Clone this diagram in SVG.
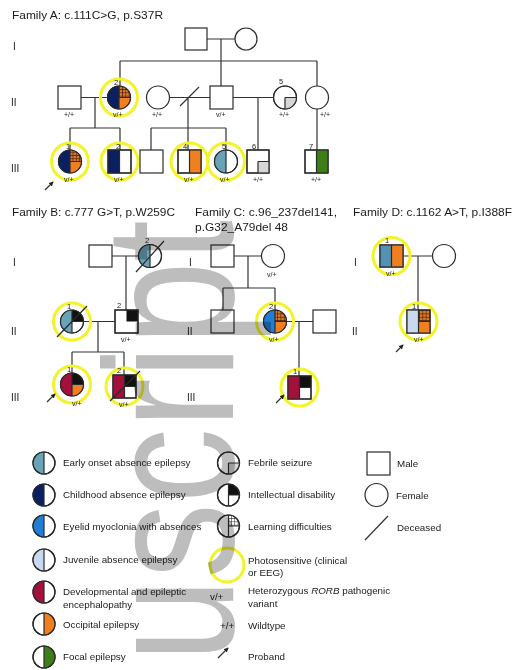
<svg xmlns="http://www.w3.org/2000/svg" width="516" height="670" viewBox="0 0 516 670">
<style>
.t{font-family:"Liberation Sans",Arial,sans-serif;fill:#1a1a1a}
.title{font-size:11px}
.gen{font-size:10px}
.num{font-size:7.5px}
.gt{font-size:7px}
.lg{font-size:9.8px}
.o{fill:#fff;stroke:#2a2a2a;stroke-width:1.2}
.ol{fill:none;stroke:#2a2a2a;stroke-width:1.2}
.ln{fill:none;stroke:#333;stroke-width:1.2}
.ring{fill:none;stroke:#f3f32a;stroke-width:3}
.eo{fill:#6aa2b8}.ca{fill:#0b2060}.em{fill:#1f7fd6}.ja{fill:#c9d9f0}.de{fill:#a3103c}.oc{fill:#ef7f1f}.fo{fill:#3d7f17}.fs{fill:#d6d6d6}.id{fill:#111}.ld{fill:url(#gridO)}.ldw{fill:url(#gridW)}.sb{fill:#5591b3}
.wm{font-family:"Liberation Sans",Arial,sans-serif;fill:#bdbdbd;mix-blend-mode:multiply}
</style>
<defs>
<pattern id="gridO" patternUnits="userSpaceOnUse" width="3.3" height="3.3">
<rect width="3.3" height="3.3" fill="#d9782a"/>
<path d="M0 0.3H3.3M0.3 0V3.3" stroke="#3a1a0a" stroke-width="0.7"/>
</pattern>
<pattern id="gridW" patternUnits="userSpaceOnUse" width="3.3" height="3.3">
<rect width="3.3" height="3.3" fill="#fff"/>
<path d="M0 0.3H3.3M0.3 0V3.3" stroke="#222" stroke-width="0.6"/>
</pattern>
<marker id="ah" viewBox="0 0 6 6" refX="5" refY="3" markerWidth="4" markerHeight="4" orient="auto">
<path d="M0 0L6 3L0 6Z" fill="#222"/>
</marker>
</defs>
<rect width="516" height="670" fill="#fff"/>

<!-- titles and generation labels -->
<g id="labels">
<text class="t title" x="12" y="19" textLength="151" lengthAdjust="spacingAndGlyphs">Family A:  c.111C&gt;G, p.S37R</text>
<text class="t gen" x="13" y="50">I</text>
<text class="t gen" x="11" y="106">II</text>
<text class="t gen" x="11" y="172">III</text>
<text class="t title" x="12" y="216" textLength="163" lengthAdjust="spacingAndGlyphs">Family B:  c.777 G&gt;T, p.W259C</text>
<text class="t title" x="195" y="216" textLength="142" lengthAdjust="spacingAndGlyphs">Family C: c.96_237del141,</text>
<text class="t title" x="195" y="231" textLength="93" lengthAdjust="spacingAndGlyphs">p.G32_A79del 48</text>
<text class="t title" x="353" y="216" textLength="159" lengthAdjust="spacingAndGlyphs">Family D: c.1162 A&gt;T, p.I388F</text>
<text class="t gen" x="13" y="266">I</text>
<text class="t gen" x="11" y="335">II</text>
<text class="t gen" x="11" y="401">III</text>
<text class="t gen" x="189" y="266">I</text>
<text class="t gen" x="187" y="335">II</text>
<text class="t gen" x="187" y="401">III</text>
<text class="t gen" x="354" y="266">I</text>
<text class="t gen" x="352" y="335">II</text>
</g>

<!-- connectors -->
<g id="connectors" class="ln">
<path d="M207 39H235M221 39V61M120 61H317M120 61V86M221 61V86M317 61V86"/>
<path d="M81 97.5H107.5M95 97.5V128M70 128H120M70 128V150M120 128V150"/>
<path d="M169.5 97.5H210M180 106L199 87M188 97.5V150M151 128H226M151 128V150M226 128V150"/>
<path d="M233 97.5H273.5M258 97.5V150M317 109V150"/>
<path d="M112 256H138.5M126 256V310M83.5 321.5H115M98 321.5V352M72 352H124M72 352V373M124 352V375"/>
<path d="M234 256H261.5M248 256V288M223 288H275M223 288V310M275 288V310M286.5 321.5H313M299 321.5V376"/>
<path d="M403 256H432.5M418 256V310"/>
</g>

<!-- Family A -->
<g id="A-I-1"><rect class="o" x="185" y="28" width="22" height="22"/></g>
<g id="A-I-2"><circle class="o" cx="246" cy="39" r="11"/></g>
<g id="A-II-1"><rect class="o" x="58" y="86" width="23" height="23"/><text class="t gt" x="64" y="117">+/+</text></g>
<g id="A-II-2"><circle class="ring" cx="119" cy="97.5" r="18.5"/>
<circle class="o" cx="119" cy="97.5" r="11.5"/>
<path class="ca" d="M119 86A11.5 11.5 0 0 0 119 109Z"/>
<path class="ld" d="M119 97.5L119 86A11.5 11.5 0 0 1 130.5 97.5Z"/>
<path class="oc" d="M119 97.5L130.5 97.5A11.5 11.5 0 0 1 119 109Z"/>
<circle class="ol" cx="119" cy="97.5" r="11.5"/><path class="ol" d="M119 86V109M119 97.5H130.5"/>
<text class="t num" x="114" y="85">2</text><text class="t gt" x="113" y="117">v/+</text></g>
<g id="A-II-3"><circle class="o" cx="158" cy="97.5" r="11.5"/><text class="t gt" x="152" y="117">+/+</text></g>
<g id="A-II-4"><rect class="o" x="210" y="86" width="23" height="23"/><text class="t gt" x="216" y="117">v/+</text></g>
<g id="A-II-5"><circle class="o" cx="285" cy="97.5" r="11.5"/>
<path class="fs" d="M285 97.5L296.5 97.5A11.5 11.5 0 0 1 285 109Z"/>
<circle class="ol" cx="285" cy="97.5" r="11.5"/><path class="ol" d="M285 97.5V109M285 97.5H296.5"/>
<text class="t num" x="279" y="84">5</text><text class="t gt" x="279" y="117">+/+</text></g>
<g id="A-II-6"><circle class="o" cx="317" cy="97.5" r="11.5"/><text class="t gt" x="320" y="117">+/+</text></g>

<g id="A-III-1"><circle class="ring" cx="70" cy="161.5" r="18.5"/>
<circle class="o" cx="70" cy="161.5" r="11.5"/>
<path class="ca" d="M70 150A11.5 11.5 0 0 0 70 173Z"/>
<path class="ld" d="M70 161.5L70 150A11.5 11.5 0 0 1 81.5 161.5Z"/>
<path class="oc" d="M70 161.5L81.5 161.5A11.5 11.5 0 0 1 70 173Z"/>
<circle class="ol" cx="70" cy="161.5" r="11.5"/><path class="ol" d="M70 150V173M70 161.5H81.5"/>
<text class="t num" x="66" y="149">1</text><text class="t gt" x="64" y="182">v/+</text>
<path class="ln" d="M45 190L53 182" marker-end="url(#ah)"/></g>
<g id="A-III-2"><circle class="ring" cx="119.5" cy="161.5" r="18.5"/>
<rect class="o" x="108" y="150" width="23" height="23"/><rect class="ca" x="108" y="150" width="11.5" height="23"/>
<rect class="ol" x="108" y="150" width="23" height="23"/><path class="ol" d="M119.5 150V173"/>
<text class="t num" x="116" y="149">2</text><text class="t gt" x="114" y="182">v/+</text></g>
<g id="A-III-3"><rect class="o" x="140" y="150" width="23" height="23"/></g>
<g id="A-III-4"><circle class="ring" cx="189.5" cy="161.5" r="18.5"/>
<rect class="o" x="178" y="150" width="23" height="23"/><rect class="oc" x="189.5" y="150" width="11.5" height="23"/>
<rect class="ol" x="178" y="150" width="23" height="23"/><path class="ol" d="M189.5 150V173"/>
<text class="t num" x="183" y="149">4</text><text class="t gt" x="184" y="182">v/+</text></g>
<g id="A-III-5"><circle class="ring" cx="226" cy="161.5" r="18.5"/>
<circle class="o" cx="226" cy="161.5" r="11.5"/>
<path class="eo" d="M226 150A11.5 11.5 0 0 0 226 173Z"/>
<circle class="ol" cx="226" cy="161.5" r="11.5"/><path class="ol" d="M226 150V173"/>
<text class="t num" x="222" y="149">5</text><text class="t gt" x="220" y="182">v/+</text></g>
<g id="A-III-6"><rect class="o" x="247" y="150" width="22" height="23"/>
<rect class="fs" x="258" y="161.5" width="11" height="11.5"/>
<rect class="ol" x="247" y="150" width="22" height="23"/><path class="ol" d="M258 161.5V173M258 161.5H269"/>
<text class="t num" x="252" y="149">6</text><text class="t gt" x="253" y="182">+/+</text></g>
<g id="A-III-7"><rect class="o" x="305" y="150" width="23" height="23"/><rect class="fo" x="316.5" y="150" width="11.5" height="23"/>
<rect class="ol" x="305" y="150" width="23" height="23"/><path class="ol" d="M316.5 150V173"/>
<text class="t num" x="309" y="149">7</text><text class="t gt" x="311" y="182">+/+</text></g>

<!-- Family B -->
<g id="B-I-1"><rect class="o" x="89" y="245" width="23" height="22"/></g>
<g id="B-I-2"><circle class="o" cx="150" cy="256" r="11.5"/>
<path class="eo" d="M150 244.5A11.5 11.5 0 0 0 150 267.5Z"/>
<circle class="ol" cx="150" cy="256" r="11.5"/><path class="ol" d="M150 244.5V267.5M136 272L164 241"/>
<text class="t num" x="145" y="243">2</text></g>
<g id="B-II-1"><circle class="ring" cx="72" cy="321.5" r="18.5"/>
<circle class="o" cx="72" cy="321.5" r="11.5"/>
<path class="eo" d="M72 310A11.5 11.5 0 0 0 72 333Z"/>
<path class="id" d="M72 321.5L72 310A11.5 11.5 0 0 1 83.5 321.5Z"/>
<circle class="ol" cx="72" cy="321.5" r="11.5"/><path class="ol" d="M72 310V333M72 321.5H83.5M57 337L87 306"/>
<text class="t num" x="67" y="309">1</text></g>
<g id="B-II-2"><rect class="o" x="115" y="310" width="23" height="23"/>
<rect class="id" x="126.5" y="310" width="11.5" height="11.5"/>
<rect class="ol" x="115" y="310" width="23" height="23"/>
<text class="t num" x="117" y="308">2</text><text class="t gt" x="121" y="342">v/+</text></g>
<g id="B-III-1"><circle class="ring" cx="72" cy="384.5" r="18.5"/>
<circle class="o" cx="72" cy="384.5" r="11.5"/>
<path class="de" d="M72 373A11.5 11.5 0 0 0 72 396Z"/>
<path class="id" d="M72 384.5L72 373A11.5 11.5 0 0 1 83.5 384.5Z"/>
<path class="oc" d="M72 384.5L83.5 384.5A11.5 11.5 0 0 1 72 396Z"/>
<circle class="ol" cx="72" cy="384.5" r="11.5"/><path class="ol" d="M72 373V396M72 384.5H83.5"/>
<text class="t num" x="67" y="372">1</text><text class="t gt" x="72" y="406">v/+</text>
<path class="ln" d="M47 402L55 394" marker-end="url(#ah)"/></g>
<g id="B-III-2"><circle class="ring" cx="124.5" cy="386.5" r="18.5"/>
<rect class="o" x="113" y="375" width="23" height="23"/>
<rect class="de" x="113" y="375" width="11.5" height="23"/>
<rect class="id" x="124.5" y="375" width="11.5" height="11.5"/>
<rect class="ol" x="113" y="375" width="23" height="23"/><path class="ol" d="M124.5 375V398M124.5 386.5H136M110 401L140 371"/>
<text class="t num" x="117" y="373">2</text><text class="t gt" x="119" y="407">v/+</text></g>

<!-- Family C -->
<g id="C-I-1"><rect class="o" x="211" y="245" width="23" height="22"/></g>
<g id="C-I-2"><circle class="o" cx="273" cy="256" r="11.5"/><text class="t gt" x="267" y="277">v/+</text></g>
<g id="C-II-1"><rect class="o" x="211" y="310" width="23" height="23"/></g>
<g id="C-II-2"><circle class="ring" cx="275" cy="321.5" r="18.5"/>
<circle class="o" cx="275" cy="321.5" r="11.5"/>
<path class="em" d="M275 310A11.5 11.5 0 0 0 275 333Z"/>
<path class="ld" d="M275 321.5L275 310A11.5 11.5 0 0 1 286.5 321.5Z"/>
<path class="oc" d="M275 321.5L286.5 321.5A11.5 11.5 0 0 1 275 333Z"/>
<circle class="ol" cx="275" cy="321.5" r="11.5"/><path class="ol" d="M275 310V333M275 321.5H286.5"/>
<text class="t num" x="269" y="309">2</text><text class="t gt" x="269" y="342">v/+</text></g>
<g id="C-II-3"><rect class="o" x="313" y="310" width="23" height="23"/></g>
<g id="C-III-1"><circle class="ring" cx="299.5" cy="387.5" r="18.5"/>
<rect class="o" x="288" y="376" width="23" height="23"/>
<rect class="de" x="288" y="376" width="11.5" height="23"/>
<rect class="id" x="299.5" y="376" width="11.5" height="11.5"/>
<rect class="ol" x="288" y="376" width="23" height="23"/><path class="ol" d="M299.5 376V399M299.5 387.5H311"/>
<text class="t num" x="293" y="374">1</text>
<path class="ln" d="M276 403L284 395" marker-end="url(#ah)"/></g>

<!-- Family D -->
<g id="D-I-1"><circle class="ring" cx="391.5" cy="256" r="18.5"/>
<rect class="o" x="380" y="245" width="23" height="22"/>
<rect class="sb" x="380" y="245" width="11.5" height="22"/>
<rect class="oc" x="391.5" y="245" width="11.5" height="22"/>
<rect class="ol" x="380" y="245" width="23" height="22"/><path class="ol" d="M391.5 245V267"/>
<text class="t num" x="385" y="243">1</text><text class="t gt" x="386" y="276">v/+</text></g>
<g id="D-I-2"><circle class="o" cx="444" cy="256" r="11.5"/></g>
<g id="D-II-1"><circle class="ring" cx="418.5" cy="321.5" r="18.5"/>
<rect class="o" x="407" y="310" width="23" height="23"/>
<rect class="ja" x="407" y="310" width="11.5" height="23"/>
<rect class="ld" x="418.5" y="310" width="11.5" height="11.5"/>
<rect class="oc" x="418.5" y="321.5" width="11.5" height="11.5"/>
<rect class="ol" x="407" y="310" width="23" height="23"/><path class="ol" d="M418.5 310V333M418.5 321.5H430"/>
<text class="t num" x="412" y="309">1</text><text class="t gt" x="414" y="342">v/+</text>
<path class="ln" d="M396 352L403 345" marker-end="url(#ah)"/></g>

<!-- Legend -->
<g id="legend-eo"><circle class="o" cx="44" cy="463" r="11"/><path class="eo" d="M44 452A11 11 0 0 0 44 474Z"/><circle class="ol" cx="44" cy="463" r="11"/><path class="ol" d="M44 452V474"/>
<text class="t lg" x="63" y="466">Early onset absence epilepsy</text></g>
<g id="legend-ca"><circle class="o" cx="44" cy="495" r="11"/><path class="ca" d="M44 484A11 11 0 0 0 44 506Z"/><circle class="ol" cx="44" cy="495" r="11"/><path class="ol" d="M44 484V506"/>
<text class="t lg" x="63" y="498">Childhood absence epilepsy</text></g>
<g id="legend-em"><circle class="o" cx="44" cy="526" r="11"/><path class="em" d="M44 515A11 11 0 0 0 44 537Z"/><circle class="ol" cx="44" cy="526" r="11"/><path class="ol" d="M44 515V537"/>
<text class="t lg" x="63" y="530">Eyelid myoclonia with absences</text></g>
<g id="legend-ja"><circle class="o" cx="44" cy="560" r="11"/><path class="ja" d="M44 549A11 11 0 0 0 44 571Z"/><circle class="ol" cx="44" cy="560" r="11"/><path class="ol" d="M44 549V571"/>
<text class="t lg" x="63" y="563">Juvenile absence epilepsy</text></g>
<g id="legend-de"><circle class="o" cx="44" cy="592" r="11"/><path class="de" d="M44 581A11 11 0 0 0 44 603Z"/><circle class="ol" cx="44" cy="592" r="11"/><path class="ol" d="M44 581V603"/>
<text class="t lg" x="63" y="595">Developmental and epileptic</text><text class="t lg" x="63" y="608">encephalopathy</text></g>
<g id="legend-oc"><circle class="o" cx="44" cy="624" r="11"/><path class="oc" d="M44 613A11 11 0 0 1 44 635Z"/><circle class="ol" cx="44" cy="624" r="11"/><path class="ol" d="M44 613V635"/>
<text class="t lg" x="63" y="628">Occipital epilepsy</text></g>
<g id="legend-fo"><circle class="o" cx="44" cy="657" r="11"/><path class="fo" d="M44 646A11 11 0 0 1 44 668Z"/><circle class="ol" cx="44" cy="657" r="11"/><path class="ol" d="M44 646V668"/>
<text class="t lg" x="63" y="660">Focal epilepsy</text></g>

<g id="legend-fs"><circle class="o" cx="228.5" cy="463" r="11"/><path class="fs" d="M228.5 463L239.5 463A11 11 0 0 1 228.5 474Z"/><circle class="ol" cx="228.5" cy="463" r="11"/><path class="ol" d="M228.5 463V474M228.5 463H239.5"/>
<text class="t lg" x="248" y="466">Febrile seizure</text></g>
<g id="legend-id"><circle class="o" cx="228.5" cy="495" r="11"/><path class="id" d="M228.5 495L228.5 484A11 11 0 0 1 239.5 495Z"/><circle class="ol" cx="228.5" cy="495" r="11"/><path class="ol" d="M228.5 484V506M228.5 495H239.5"/>
<text class="t lg" x="248" y="498">Intellectual disability</text></g>
<g id="legend-ld"><circle class="o" cx="228.5" cy="526" r="11"/><path class="ldw" d="M228.5 526L228.5 515A11 11 0 0 1 239.5 526Z"/><circle class="ol" cx="228.5" cy="526" r="11"/><path class="ol" d="M228.5 515V537M228.5 526H239.5"/>
<text class="t lg" x="248" y="530">Learning difficulties</text></g>
<g id="legend-ps"><circle class="ring" cx="227" cy="565" r="17"/>
<text class="t lg" x="248" y="564">Photosensitive (clinical</text><text class="t lg" x="248" y="576">or EEG)</text></g>
<g id="legend-het"><text class="t lg" x="210" y="600">v/+</text>
<text class="t lg" x="248" y="594">Heterozygous <tspan font-style="italic">RORB</tspan> pathogenic</text><text class="t lg" x="248" y="607">variant</text></g>
<g id="legend-wt"><text class="t lg" x="220" y="629">+/+</text><text class="t lg" x="248" y="629">Wildtype</text></g>
<g id="legend-pb"><path class="ln" d="M218 658L228 648" marker-end="url(#ah)"/><text class="t lg" x="248" y="660">Proband</text></g>
<g id="legend-male"><rect class="o" x="367" y="452" width="23" height="23"/><text class="t lg" x="397" y="467">Male</text></g>
<g id="legend-female"><circle class="o" cx="376.5" cy="495" r="11.5"/><text class="t lg" x="396" y="499">Female</text></g>
<g id="legend-dec"><path class="ln" d="M365 540L388 516"/><text class="t lg" x="397" y="531">Deceased</text></g>

<!-- watermark -->
<g id="watermark">
<text class="wm" font-size="150" text-anchor="end" transform="translate(233 220) rotate(-90) scale(1 1.23)">uscript</text>
</g>
</svg>
